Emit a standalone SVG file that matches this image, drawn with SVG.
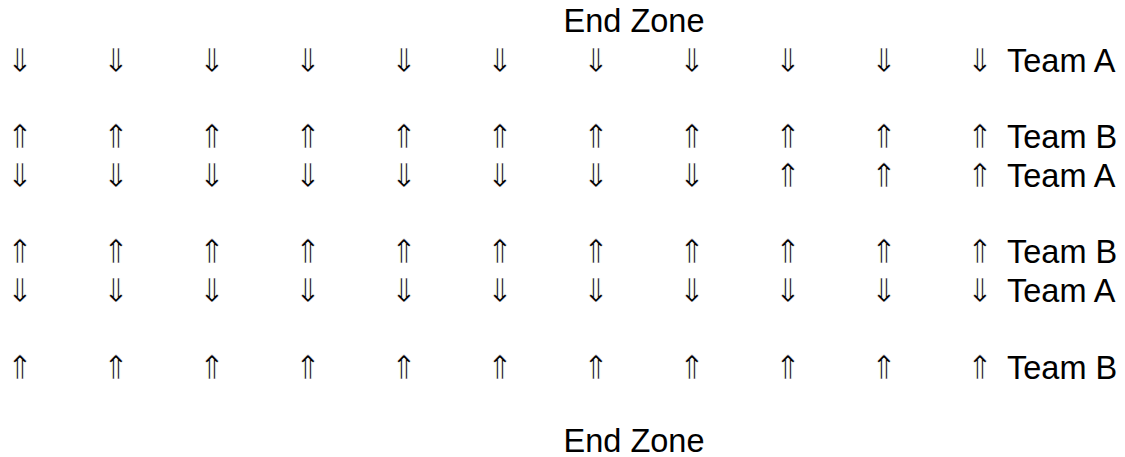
<svg xmlns="http://www.w3.org/2000/svg" width="1125" height="457" viewBox="0 0 1125 457">
<style>
text{font-family:"Liberation Sans",Arial,sans-serif;font-size:32.5px;fill:#000}
.ar{font-family:"DejaVu Sans",sans-serif;font-size:33px;text-anchor:middle;stroke:#fff;stroke-width:0.7px}
.ez{text-anchor:middle}
</style>
<rect width="1125" height="457" fill="#fff"/>
<g id="endzone-top"><text class="ez" x="634" y="32">End Zone</text></g>
<g id="row1">
<text class="ar" y="72"><tspan x="20">⇓</tspan><tspan x="116">⇓</tspan><tspan x="212">⇓</tspan><tspan x="308">⇓</tspan><tspan x="404">⇓</tspan><tspan x="500">⇓</tspan><tspan x="596">⇓</tspan><tspan x="692">⇓</tspan><tspan x="788">⇓</tspan><tspan x="884">⇓</tspan><tspan x="980">⇓</tspan></text>
<text x="1007" y="72">Team A</text>
</g>
<g id="row2">
<text class="ar" y="148"><tspan x="20">⇑</tspan><tspan x="116">⇑</tspan><tspan x="212">⇑</tspan><tspan x="308">⇑</tspan><tspan x="404">⇑</tspan><tspan x="500">⇑</tspan><tspan x="596">⇑</tspan><tspan x="692">⇑</tspan><tspan x="788">⇑</tspan><tspan x="884">⇑</tspan><tspan x="980">⇑</tspan></text>
<text x="1007" y="148">Team B</text>
</g>
<g id="row3">
<text class="ar" y="187"><tspan x="20">⇓</tspan><tspan x="116">⇓</tspan><tspan x="212">⇓</tspan><tspan x="308">⇓</tspan><tspan x="404">⇓</tspan><tspan x="500">⇓</tspan><tspan x="596">⇓</tspan><tspan x="692">⇓</tspan><tspan x="788">⇑</tspan><tspan x="884">⇑</tspan><tspan x="980">⇑</tspan></text>
<text x="1007" y="187">Team A</text>
</g>
<g id="row4">
<text class="ar" y="263"><tspan x="20">⇑</tspan><tspan x="116">⇑</tspan><tspan x="212">⇑</tspan><tspan x="308">⇑</tspan><tspan x="404">⇑</tspan><tspan x="500">⇑</tspan><tspan x="596">⇑</tspan><tspan x="692">⇑</tspan><tspan x="788">⇑</tspan><tspan x="884">⇑</tspan><tspan x="980">⇑</tspan></text>
<text x="1007" y="263">Team B</text>
</g>
<g id="row5">
<text class="ar" y="302"><tspan x="20">⇓</tspan><tspan x="116">⇓</tspan><tspan x="212">⇓</tspan><tspan x="308">⇓</tspan><tspan x="404">⇓</tspan><tspan x="500">⇓</tspan><tspan x="596">⇓</tspan><tspan x="692">⇓</tspan><tspan x="788">⇓</tspan><tspan x="884">⇓</tspan><tspan x="980">⇓</tspan></text>
<text x="1007" y="302">Team A</text>
</g>
<g id="row6">
<text class="ar" y="379"><tspan x="20">⇑</tspan><tspan x="116">⇑</tspan><tspan x="212">⇑</tspan><tspan x="308">⇑</tspan><tspan x="404">⇑</tspan><tspan x="500">⇑</tspan><tspan x="596">⇑</tspan><tspan x="692">⇑</tspan><tspan x="788">⇑</tspan><tspan x="884">⇑</tspan><tspan x="980">⇑</tspan></text>
<text x="1007" y="379">Team B</text>
</g>
<g id="endzone-bottom"><text class="ez" x="634" y="452">End Zone</text></g>
</svg>
